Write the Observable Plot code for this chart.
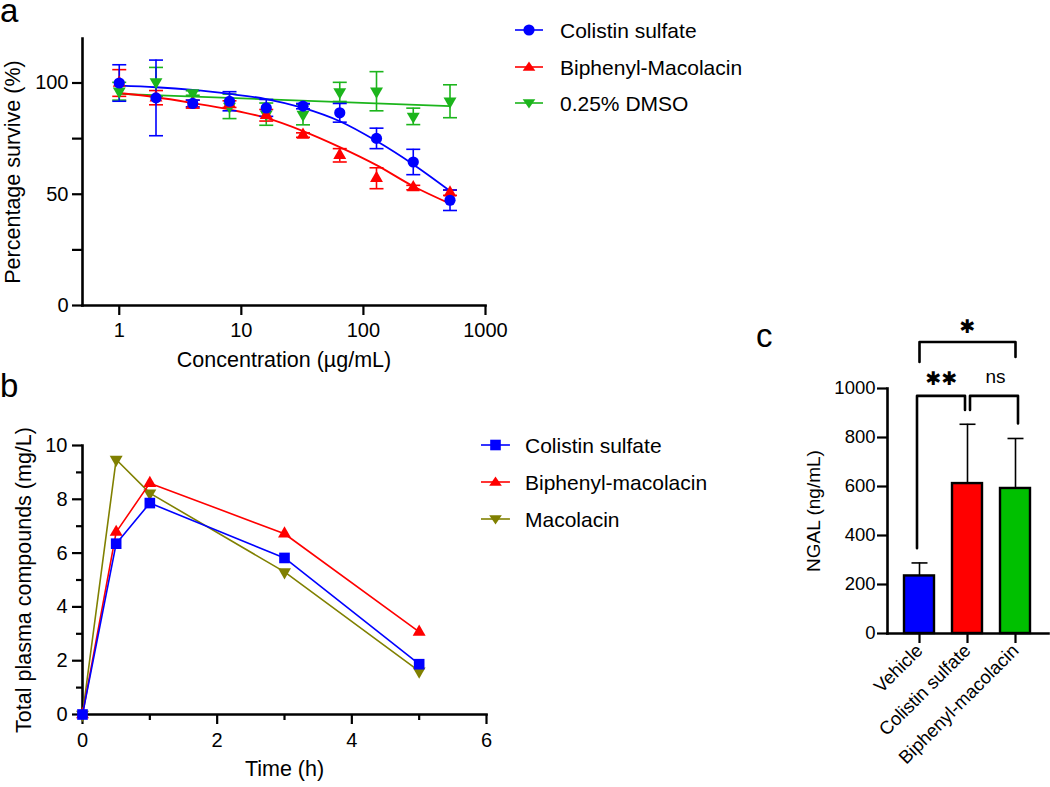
<!DOCTYPE html>
<html>
<head>
<meta charset="utf-8">
<script src="https://cdn.jsdelivr.net/npm/d3@7"></script>
<script src="https://cdn.jsdelivr.net/npm/@observablehq/plot@0.6"></script>
<style>
  body { margin: 0; background: #fff; font-family: "Liberation Sans", Arial, sans-serif; }
  #fig { position: relative; width: 1050px; height: 787px; overflow: hidden; background: #fff; }
  #fig > svg { position: absolute; overflow: visible; }
  .pa g[aria-label$="tick label"], .pa g[aria-label$="tick label"] text,
  .pb g[aria-label$="tick label"], .pb g[aria-label$="tick label"] text { font-size: 20px !important; font-family: "Liberation Sans", Arial, sans-serif !important; }
  .pc g[aria-label$="tick label"], .pc g[aria-label$="tick label"] text { font-size: 18.5px !important; font-family: "Liberation Sans", Arial, sans-serif !important; }
</style>
</head>
<body>
<div id="fig"></div>
<script>
// ---------- Panel a data ----------
const concentrations = [1, 2, 4, 8, 16, 32, 64, 128, 256, 512];
const colistinSurvival = [100, 93.3, 90.8, 91.8, 88.8, 89.6, 86.6, 75.1, 64.5, 47.3];
const colistinSurvivalErr = [8.2, 17, 1.5, 4.3, 3.8, 1.2, 4.2, 4.6, 5.7, 4.6];
const biphenylSurvival = [100, 93.4, 90.5, 90.5, 85.5, 76.6, 67.5, 57.2, 53, 50.7];
const biphenylSurvivalErr = [6, 3.2, 1.8, 1.5, 2.6, 1, 3, 4.7, 1, 1.2];
const dmsoSurvival = [96.3, 100.5, 95.5, 89.5, 86, 85.8, 96, 96.3, 85, 91.8];
const dmsoSurvivalErr = [4, 6.5, 1, 5.5, 5, 4.6, 4.3, 8.8, 3.7, 7.4];
// fitted curves
const colistinFit = [98.8, 98.1, 96.9, 95.1, 92.8, 88.8, 82.8, 73.9, 63.4, 51.5];
const biphenylFit = [95.5, 93.6, 91.0, 88.1, 84.3, 78.4, 71.2, 63.1, 53.6, 45.8];
const dmsoFitConc = [1, 512];
const dmsoFit = [95.1, 89.6];
const seriesNamesA = ["Colistin sulfate", "Biphenyl-Macolacin", "0.25% DMSO"];
const yTicksA = [0, 25, 50, 75, 100];
const xTicksA = [1, 10, 100, 1000];

// ---------- Panel b data ----------
const times = [0, 0.5, 1, 3, 5];
const colistinPlasma = [0, 6.35, 7.86, 5.82, 1.87];
const biphenylPlasma = [0, 6.78, 8.6, 6.72, 3.07];
const macolacinPlasma = [0, 9.48, 8.23, 5.3, 1.61];
const seriesNamesB = ["Colistin sulfate", "Biphenyl-macolacin", "Macolacin"];

// ---------- Panel c data ----------
const groups = ["Vehicle", "Colistin sulfate", "Biphenyl-macolacin"];
const ngalMean = [235, 612, 592];
const ngalErr = [53, 242, 204];
const sigLabels = ["*", "**", "ns"];

// ---------- colours ----------
const BLUE = "#0000ff", RED = "#ff0000", GREEN = "#1cb51c", OLIVE = "#808000";
const FONT = "'Liberation Sans', Arial, sans-serif";

const capSymbol = {
  draw(ctx, size) { const w = Math.sqrt(size / Math.PI); ctx.moveTo(-w, 0); ctx.lineTo(w, 0); }
};

const fig = document.getElementById("fig");
function place(svg, left, top) { svg.style.left = left + "px"; svg.style.top = top + "px"; fig.appendChild(svg); }

// ================= Panel a =================
const seriesA = [
  {mean: dmsoSurvival, err: dmsoSurvivalErr, fx: dmsoFitConc, fit: dmsoFit, color: GREEN, symbol: "triangle", rotate: 180, r: 4.8},
  {mean: biphenylSurvival, err: biphenylSurvivalErr, fx: concentrations, fit: biphenylFit, color: RED, symbol: "triangle", rotate: 0, r: 4.8},
  {mean: colistinSurvival, err: colistinSurvivalErr, fx: concentrations, fit: colistinFit, color: BLUE, symbol: "circle", rotate: 0, r: 5.6}
];
const marksA = [];
for (const s of seriesA) {
  const rows = concentrations.map((c, i) => ({x: c, y: s.mean[i], e: s.err[i]}));
  const fitRows = s.fx.map((c, i) => ({x: c, y: s.fit[i]}));
  marksA.push(
    Plot.ruleX(rows, {x: "x", y1: d => d.y - d.e, y2: d => d.y + d.e, stroke: s.color, strokeWidth: 1.6}),
    Plot.dot(rows, {x: "x", y: d => d.y + d.e, symbol: capSymbol, r: 7, stroke: s.color, strokeWidth: 1.6, fill: "none"}),
    Plot.dot(rows, {x: "x", y: d => d.y - d.e, symbol: capSymbol, r: 7, stroke: s.color, strokeWidth: 1.6, fill: "none"}),
    Plot.line(fitRows, {x: "x", y: "y", curve: "monotone-x", stroke: s.color, strokeWidth: 1.8})
  );
}
for (const s of seriesA) {
  const rows = concentrations.map((c, i) => ({x: c, y: s.mean[i]}));
  marksA.push(Plot.dot(rows, {x: "x", y: "y", symbol: s.symbol, rotate: s.rotate, r: s.r, fill: s.color, stroke: "none"}));
}
const plotA = Plot.plot({
  className: "pa",
  width: 500, height: 380,
  marginLeft: 82, marginTop: 38, marginRight: 15, marginBottom: 75,
  style: {fontFamily: FONT, fontSize: "20px", color: "black", background: "transparent", overflow: "visible"},
  x: {type: "log", domain: [0.5, 1000]},
  y: {domain: [0, 120]},
  marks: [
    Plot.axisX({ticks: xTicksA, tickFormat: d => String(d), tickSize: 10, tickPadding: 7, strokeWidth: 2.2, fontSize: 20, label: null}),
    Plot.axisY({ticks: yTicksA, tickFormat: d => (d % 50 === 0 ? String(d) : ""), tickSize: 10, tickPadding: 4, strokeWidth: 2.2, fontSize: 20, label: null}),
    Plot.frame({anchor: "left", stroke: "black", strokeWidth: 2.6}),
    Plot.frame({anchor: "bottom", stroke: "black", strokeWidth: 2.6}),
    ...marksA,
    Plot.text(["Concentration (µg/mL)"], {frameAnchor: "bottom", textAnchor: "middle", dy: 61, fontSize: 21.5, fill: "black"}),
    Plot.text(["Percentage survive (%)"], {frameAnchor: "left", textAnchor: "middle", rotate: -90, dx: -69, fontSize: 21.5, fill: "black"})
  ]
});
place(plotA, 0, 0);

// ================= Panel b =================
const seriesB = [
  {vals: macolacinPlasma, color: OLIVE, symbol: "triangle", rotate: 180, r: 4.8},
  {vals: biphenylPlasma, color: RED, symbol: "triangle", rotate: 0, r: 4.8},
  {vals: colistinPlasma, color: BLUE, symbol: "square", rotate: 0, r: 6}
];
const marksB = [];
for (const s of seriesB) {
  const rows = times.map((t, i) => ({x: t, y: s.vals[i]}));
  marksB.push(
    Plot.line(rows, {x: "x", y: "y", stroke: s.color, strokeWidth: 1.6}),
    Plot.dot(rows, {x: "x", y: "y", symbol: s.symbol, rotate: s.rotate, r: s.r, fill: s.color, stroke: "none"})
  );
}
const plotB = Plot.plot({
  className: "pb",
  width: 500, height: 407,
  marginLeft: 82, marginTop: 65, marginRight: 14, marginBottom: 73,
  style: {fontFamily: FONT, fontSize: "20px", color: "black", background: "transparent", overflow: "visible"},
  x: {domain: [0, 6]},
  y: {domain: [0, 10]},
  marks: [
    Plot.axisX({ticks: [0, 2, 4, 6], tickFormat: d => String(d), tickSize: 10, tickPadding: 8, strokeWidth: 2.2, fontSize: 20, label: null}),
    Plot.axisX({ticks: [1, 3, 5], tickFormat: () => "", tickSize: 6, strokeWidth: 2.2, label: null}),
    Plot.axisY({ticks: [0, 2, 4, 6, 8, 10], tickFormat: d => String(d), tickSize: 10, tickPadding: 5, strokeWidth: 2.2, fontSize: 20, label: null}),
    Plot.axisY({ticks: [1, 3, 5, 7, 9], tickFormat: () => "", tickSize: 6, strokeWidth: 2.2, label: null}),
    Plot.frame({anchor: "left", stroke: "black", strokeWidth: 2.6}),
    Plot.frame({anchor: "bottom", stroke: "black", strokeWidth: 2.6}),
    ...marksB,
    Plot.text(["Time (h)"], {frameAnchor: "bottom", textAnchor: "middle", dy: 61, fontSize: 21.5, fill: "black"}),
    Plot.text(["Total plasma compounds (mg/L)"], {frameAnchor: "left", textAnchor: "middle", rotate: -90, dx: -58, fontSize: 21.5, fill: "black"})
  ]
});
place(plotB, 0, 380);

// ================= Panel c =================
const barRows = groups.map((g, i) => ({g, v: ngalMean[i], e: ngalErr[i]}));
const [G0, G1, G2] = groups;
const bracketTop = [{g: G0, y: 1108}, {g: G0, y: 1190}, {g: G2, y: 1190}, {g: G2, y: 1129}];
const bracketLeft = [{g: G0, y: 348}, {g: G0, y: 970}, {g: G1, y: 970}, {g: G1, y: 912}];
const bracketRight = [{g: G1, y: 912}, {g: G1, y: 970}, {g: G2, y: 970}, {g: G2, y: 857}];
const plotC = Plot.plot({
  className: "pc",
  width: 300, height: 487,
  marginLeft: 137, marginTop: 88, marginRight: 2, marginBottom: 154,
  style: {fontFamily: FONT, fontSize: "18px", color: "black", background: "transparent", overflow: "visible"},
  x: {type: "band", domain: groups, paddingInner: 0.37, paddingOuter: 0.33},
  y: {domain: [0, 1000]},
  color: {domain: groups, range: [BLUE, RED, "#00c000"]},
  marks: [
    Plot.ruleX(barRows, {x: "g", y1: "v", y2: d => d.v + d.e, stroke: "black", strokeWidth: 1.6}),
    Plot.dot(barRows, {x: "g", y: d => d.v + d.e, symbol: capSymbol, r: 8, stroke: "black", strokeWidth: 1.6, fill: "none"}),
    Plot.barY(barRows, {x: "g", y: "v", fill: "g", stroke: "black", strokeWidth: 2.4}),
    Plot.axisX({tickSize: 10, tickRotate: -45, tickPadding: 4, strokeWidth: 2.2, fontSize: 18.5, label: null}),
    Plot.axisY({ticks: [0, 200, 400, 600, 800, 1000], tickFormat: d => String(d), tickSize: 10, tickPadding: 2, strokeWidth: 2.2, fontSize: 18.5, label: null}),
    Plot.frame({anchor: "left", stroke: "black", strokeWidth: 2.6}),
    Plot.frame({anchor: "bottom", stroke: "black", strokeWidth: 2.6}),
    Plot.line(bracketTop, {x: "g", y: "y", stroke: "black", strokeWidth: 2.6}),
    Plot.line(bracketLeft, {x: "g", y: "y", stroke: "black", strokeWidth: 2.6, dx: -2.5}),
    Plot.line(bracketRight, {x: "g", y: "y", stroke: "black", strokeWidth: 2.6, dx: 2.5}),
    Plot.text([{g: G1, y: 1251, t: "✱"}], {x: "g", y: "y", text: "t", fontSize: 19, fontFamily: "DejaVu Sans", fill: "black"}),
    Plot.text([{g: G0, y: 1038, t: "✱✱"}], {x: "g", y: "y", text: "t", dx: 22, fontSize: 19, fontFamily: "DejaVu Sans", fill: "black"}),
    Plot.text([{g: G1, y: 1047, t: sigLabels[2]}], {x: "g", y: "y", text: "t", dx: 28, fontSize: 19, fill: "black"}),
    Plot.text(["NGAL (ng/mL)"], {frameAnchor: "left", textAnchor: "middle", rotate: -90, dx: -74, fontSize: 19, fill: "black"})
  ]
});
place(plotC, 750, 300);

// ================= Overlay: panel letters & legends =================
const NS = "http://www.w3.org/2000/svg";
const ov = document.createElementNS(NS, "svg");
ov.setAttribute("width", 1050); ov.setAttribute("height", 787);
ov.style.left = "0px"; ov.style.top = "0px"; ov.style.pointerEvents = "none";
fig.appendChild(ov);
function addText(x, y, str, size) {
  const t = document.createElementNS(NS, "text");
  t.setAttribute("x", x); t.setAttribute("y", y);
  t.setAttribute("font-size", size); t.setAttribute("font-family", FONT);
  t.setAttribute("fill", "black"); t.textContent = str; ov.appendChild(t);
}
function addSymbol(cx, cy, shape, color) {
  let el;
  if (shape === "circle") { el = document.createElementNS(NS, "circle"); el.setAttribute("cx", cx); el.setAttribute("cy", cy); el.setAttribute("r", 5.6); }
  else if (shape === "square") { el = document.createElementNS(NS, "rect"); el.setAttribute("x", cx - 5.3); el.setAttribute("y", cy - 5.3); el.setAttribute("width", 10.6); el.setAttribute("height", 10.6); }
  else { el = document.createElementNS(NS, "polygon"); const h = 5.5, w = 6.3;
    el.setAttribute("points", shape === "up" ? `${cx},${cy - h} ${cx - w},${cy + h * 0.7} ${cx + w},${cy + h * 0.7}` : `${cx},${cy + h} ${cx - w},${cy - h * 0.7} ${cx + w},${cy - h * 0.7}`); }
  el.setAttribute("fill", color); ov.appendChild(el);
}
function legendRow(x0, x1, ty, textX, shape, color, label) {
  const l = document.createElementNS(NS, "line");
  l.setAttribute("x1", x0); l.setAttribute("x2", x1); l.setAttribute("y1", ty); l.setAttribute("y2", ty);
  l.setAttribute("stroke", color); l.setAttribute("stroke-width", 1.6); ov.appendChild(l);
  addSymbol((x0 + x1) / 2, ty, shape, color);
  addText(textX, ty + 7.5, label, 21);
}
addText(0, 22, "a", 33);
addText(0, 397, "b", 33);
addText(756, 347, "c", 33);
const shapesA = ["circle", "up", "down"], colorsA = [BLUE, RED, GREEN], rowYA = [30, 67, 103];
seriesNamesA.forEach((n, i) => legendRow(515, 543, rowYA[i], 560, shapesA[i], colorsA[i], n));
const shapesB = ["square", "up", "down"], colorsB = [BLUE, RED, OLIVE], rowYB = [445, 482, 519];
seriesNamesB.forEach((n, i) => legendRow(481, 510, rowYB[i], 525, shapesB[i], colorsB[i], n));
</script>
</body>
</html>
